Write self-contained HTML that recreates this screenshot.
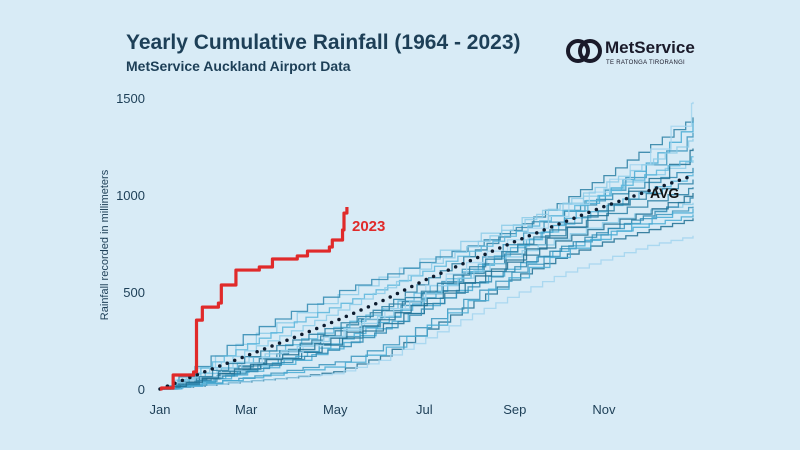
<!DOCTYPE html>
<html><head><meta charset="utf-8">
<style>
html,body{margin:0;padding:0;}
body{width:800px;height:450px;background:#d8ebf6;font-family:"Liberation Sans",sans-serif;overflow:hidden;position:relative;}
.t{position:absolute;color:#1d3f57;font-weight:bold;}
</style></head><body>
<div class="t" style="left:126px;top:31px;font-size:21px;">Yearly Cumulative Rainfall (1964 - 2023)</div>
<div class="t" style="left:126px;top:58px;font-size:14px;">MetService Auckland Airport Data</div>
<div style="position:absolute;left:565px;top:38px;width:140px;height:32px;">
<svg width="40" height="28" viewBox="0 0 40 28"><circle cx="13" cy="13" r="10" fill="none" stroke="#1a1a2a" stroke-width="4"/><circle cx="25" cy="13" r="10" fill="none" stroke="#1a1a2a" stroke-width="4"/></svg>
<span style="position:absolute;left:40px;top:0px;font-size:17px;color:#1a1a2a;font-weight:bold;">MetService</span>
<span style="position:absolute;left:41px;top:22px;font-size:6px;color:#1a1a2a;letter-spacing:0.3px;">TE RATONGA TIRORANGI</span>
</div>
<svg id="chart" width="800" height="450" style="position:absolute;left:0;top:0;"></svg>
<script>
const monthLabels=["Jan","Mar","May","Jul","Sep","Nov"];
const monthLabelDays=[0,59,120,181,243,304];
const yTicks=[0,500,1000,1500];
const monthDays=[0,31,59,90,120,151,181,212,243,273,304,334,365];
const hist1=[0,60,120,210,300,420,560,700,830,960,1100,1250,1400];
const hist2=[0,40,90,140,220,320,430,540,640,720,800,850,900];
const hist3=[0,140,260,380,480,580,680,780,870,950,1030,1110,1180];
const hist4=[0,20,40,60,90,170,300,440,580,680,760,820,880];
const hist5=[0,80,150,240,320,410,520,620,740,850,940,1030,1110];
const hist6=[0,50,110,180,260,370,500,640,780,900,1020,1160,1320];
const hist7=[0,20,40,60,80,150,260,380,490,590,670,740,790];
const hist8=[0,150,290,400,500,580,660,740,830,910,990,1070,1140];
const hist9=[0,70,130,220,300,400,500,610,720,820,900,970,1040];
const hist10=[0,40,100,160,240,350,470,600,730,860,1010,1170,1380];
const hist11=[0,90,160,210,280,380,490,600,700,780,860,920,960];
const hist12=[0,60,110,170,250,330,440,560,690,810,940,1080,1240];
const hist13=[0,120,230,340,430,520,610,710,810,910,1010,1110,1200];
const hist14=[0,30,60,100,140,220,340,480,610,720,820,890,940];
const hist15=[0,70,140,200,290,400,530,660,790,920,1060,1220,1480];
const hist16=[0,50,90,150,210,300,420,530,630,730,820,900,990];
const hist17=[0,80,170,250,330,420,510,630,740,840,930,1010,1080];
const hist18=[0,30,60,90,120,200,320,460,590,700,800,880,930];
const hist19=[0,100,200,300,400,510,630,740,850,950,1060,1170,1290];
const hist20=[0,60,120,190,270,360,460,570,670,770,850,920,1010];
const histSeries=[hist1,hist2,hist3,hist4,hist5,hist6,hist7,hist8,hist9,hist10,hist11,hist12,hist13,hist14,hist15,hist16,hist17,hist18,hist19,hist20];
const avgValues=[0,90,170,260,350,450,560,660,760,850,940,1020,1100];
const y2023Days=[0,1,9,23,25,29,40,42,52,68,77,94,101,116,118,125,126,128];
const y2023Values=[0,5,72,88,355,422,443,536,613,629,670,686,711,732,768,820,907,938];

const NS="http://www.w3.org/2000/svg";
const svg=document.getElementById("chart");
const x0=160,x1=693,yZero=389,yTop=98;
function xs(d){return x0+(x1-x0)*d/365;}
function ys(v){return yZero-(yZero-yTop)*v/1500;}
function mk(tag,attrs){const e=document.createElementNS(NS,tag);for(const k in attrs)e.setAttribute(k,attrs[k]);svg.appendChild(e);return e;}
function valAt(s,d){
  for(let k=0;k<12;k++){if(d<=monthDays[k+1]){const f=(d-monthDays[k])/(monthDays[k+1]-monthDays[k]);return s[k]+(s[k+1]-s[k])*f;}}
  return s[12];
}

yTicks.forEach(v=>{
  const t=mk("text",{x:145,y:ys(v)+5,"text-anchor":"end","font-size":"13","fill":"#1d3f57","font-family":"Liberation Sans, sans-serif"});
  t.textContent=v;
  
  
});
monthLabels.forEach((m,i)=>{
  const t=mk("text",{x:xs(monthLabelDays[i]),y:414,"text-anchor":"middle","font-size":"13","fill":"#1d3f57","font-family":"Liberation Sans, sans-serif"});
  t.textContent=m;
  
  
});
const yt=mk("text",{x:0,y:0,transform:"translate(108,245) rotate(-90)","text-anchor":"middle","font-size":"11","fill":"#1d3f57","font-family":"Liberation Sans, sans-serif"});
yt.textContent="Rainfall recorded in millimeters";



const colors=["#2a7fa3","#47aad3","#8ccbe8","#1f6f92","#5bb6dc","#3b95bd","#a2d5ee","#2f88b0"];
histSeries.forEach((s,i)=>{
  const step=8+(i*3)%9;
  let d=(i*5)%step;
  let prev=0;
  let pts=[xs(0)+","+ys(0)];
  while(d<365){
    const v=valAt(s,d);
    pts.push(xs(d)+","+ys(prev));pts.push(xs(d)+","+ys(v));
    prev=v;d+=step;
  }
  pts.push(xs(365)+","+ys(prev));pts.push(xs(365)+","+ys(s[12]));
  const p=mk("polyline",{points:pts.join(" "),fill:"none",stroke:colors[i%colors.length],"stroke-width":"1.3","stroke-opacity":"0.85"});
  
  
});
const ap=mk("polyline",{points:avgValues.map((v,i)=>xs(monthDays[i])+","+ys(v)).join(" "),fill:"none",stroke:"#0d1b2e","stroke-width":"3.5","stroke-linecap":"round","stroke-dasharray":"0 8"});


const al=mk("text",{x:650,y:198,"font-size":"14","font-weight":"bold","fill":"#111","font-family":"Liberation Sans, sans-serif"});
al.textContent="AVG";


let rp=[];
y2023Days.forEach((d,i)=>{if(i>0)rp.push(xs(d)+","+ys(y2023Values[i-1]));rp.push(xs(d)+","+ys(y2023Values[i]));});
const r=mk("polyline",{points:rp.join(" "),fill:"none",stroke:"#e02a2a","stroke-width":"3.2","stroke-linejoin":"round"});


const rl=mk("text",{x:352,y:231,"font-size":"15","font-weight":"bold","fill":"#e02a2a","font-family":"Liberation Sans, sans-serif"});
rl.textContent="2023";


</script>
</body></html>
